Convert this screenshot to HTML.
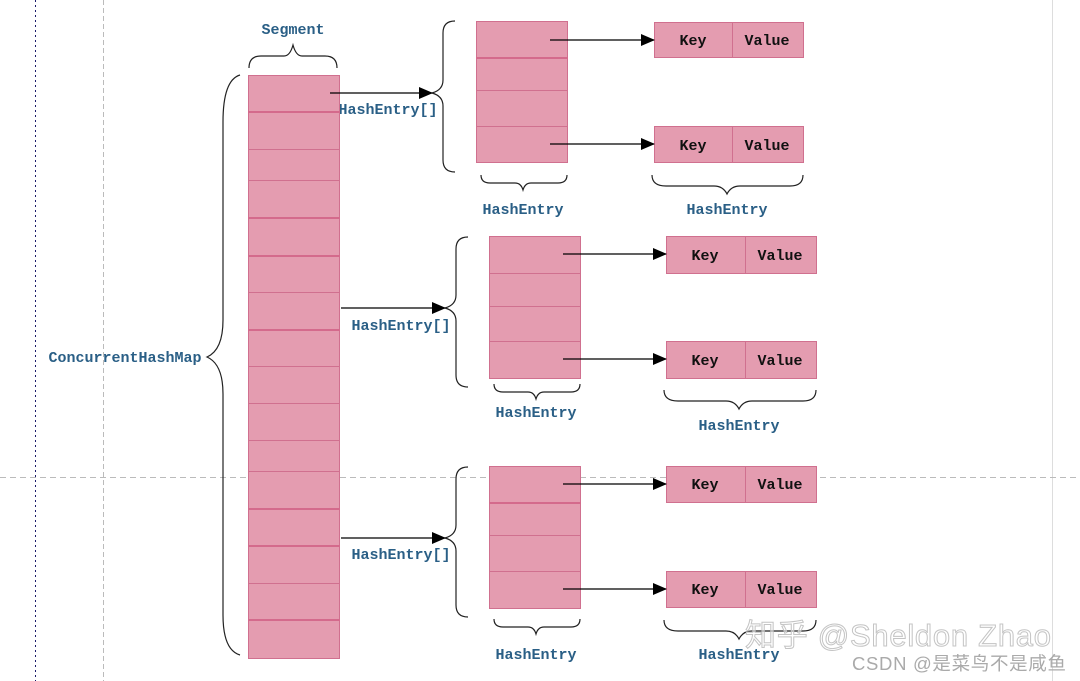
<!DOCTYPE html>
<html><head><meta charset="utf-8"><style>
html,body{margin:0;padding:0;background:#fff;width:1080px;height:681px;overflow:hidden}
</style></head><body>
<svg width="1080" height="681" viewBox="0 0 1080 681" xmlns="http://www.w3.org/2000/svg">
<defs>
<marker id="ar" markerWidth="14" markerHeight="12" refX="13" refY="6" orient="auto" markerUnits="userSpaceOnUse">
<path d="M0,0 L14,6 L0,12 z" fill="#000"/></marker>
</defs>
<line x1="35.5" y1="0" x2="35.5" y2="681" stroke="#1a1a6a" stroke-dasharray="2,3"/>
<line x1="103.5" y1="0" x2="103.5" y2="681" stroke="#bbb" stroke-dasharray="5,3"/>
<line x1="1052.5" y1="0" x2="1052.5" y2="681" stroke="#ddd"/>
<line x1="0" y1="477.5" x2="1080" y2="477.5" stroke="#bbb" stroke-dasharray="6,4"/>

<g font-family="Liberation Mono, monospace" font-weight="bold" font-size="15" fill="#2a5f86" text-anchor="middle">
<text x="293" y="34">Segment</text>
<text x="125" y="362">ConcurrentHashMap</text>
<text x="388" y="114">HashEntry[]</text>
<text x="401" y="330">HashEntry[]</text>
<text x="401" y="559">HashEntry[]</text>
<text x="523" y="214">HashEntry</text>
<text x="727" y="214">HashEntry</text>
<text x="536" y="417">HashEntry</text>
<text x="739" y="430">HashEntry</text>
<text x="536" y="659">HashEntry</text>
<text x="739" y="659">HashEntry</text>
</g>

<g fill="none" stroke="#222" stroke-width="1.2">
<path d="M249,68 Q249,56 261,56 L284,56 Q290,56 293,45 Q296,56 302,56 L325,56 Q337,56 337,68"/>
<path d="M240,75 Q223,80 223,122 L223,320 Q223,350 207,357 Q223,364 223,394 L223,615 Q223,650 240,655"/>
<path d="M455,21 Q443,21 443,33 L443,80 Q443,90 432,93 Q443,96 443,106 L443,160 Q443,172 455,172"/>
<path d="M468,237 Q456,237 456,249 L456,295 Q456,305 445,308 Q456,311 456,321 L456,375 Q456,387 468,387"/>
<path d="M468,467 Q456,467 456,479 L456,525 Q456,535 445,538 Q456,541 456,551 L456,605 Q456,617 468,617"/>
<path d="M481,175 Q481,183 490,183 L515,183 Q521,183 523,190 Q525,183 531,183 L558,183 Q567,183 567,175"/>
<path d="M652,175 Q652,186 666,186 L714,186 Q723,186 727,194 Q731,186 740,186 L790,186 Q803,186 803,175"/>
<path d="M494,384 Q494,392 503,392 L528,392 Q534,392 536,399 Q538,392 544,392 L571,392 Q580,392 580,384"/>
<path d="M664,390 Q664,401 678,401 L726,401 Q735,401 739,409 Q743,401 752,401 L803,401 Q816,401 816,390"/>
<path d="M494,619 Q494,627 503,627 L528,627 Q534,627 536,634 Q538,627 544,627 L571,627 Q580,627 580,619"/>
<path d="M664,620 Q664,631 678,631 L726,631 Q735,631 739,639 Q743,631 752,631 L803,631 Q816,631 816,620"/>
</g>

<g fill="#e49cb0" stroke="#d0708f" stroke-width="1">
<rect x="248.5" y="75.5" width="91" height="583"/>
<rect x="476.5" y="21.5" width="91" height="141"/>
<rect x="489.5" y="236.5" width="91" height="142"/>
<rect x="489.5" y="466.5" width="91" height="142"/>
<rect x="654.5" y="22.5" width="149" height="35"/>
<rect x="654.5" y="126.5" width="149" height="36"/>
<rect x="666.5" y="236.5" width="150" height="37"/>
<rect x="666.5" y="341.5" width="150" height="37"/>
<rect x="666.5" y="466.5" width="150" height="36"/>
<rect x="666.5" y="571.5" width="150" height="36"/>
</g>
<g stroke="#d0708f" stroke-width="1">
<line x1="732.5" y1="22" x2="732.5" y2="58"/>
<line x1="732.5" y1="126" x2="732.5" y2="163"/>
<line x1="745.5" y1="236" x2="745.5" y2="274"/>
<line x1="745.5" y1="341" x2="745.5" y2="379"/>
<line x1="745.5" y1="466" x2="745.5" y2="503"/>
<line x1="745.5" y1="571" x2="745.5" y2="608"/>
<line x1="248" y1="149.5" x2="340" y2="149.5"/>
<line x1="248" y1="180.5" x2="340" y2="180.5"/>
<line x1="248" y1="292.5" x2="340" y2="292.5"/>
<line x1="248" y1="366.5" x2="340" y2="366.5"/>
<line x1="248" y1="403.5" x2="340" y2="403.5"/>
<line x1="248" y1="440.5" x2="340" y2="440.5"/>
<line x1="248" y1="471.5" x2="340" y2="471.5"/>
<line x1="248" y1="583.5" x2="340" y2="583.5"/>
<line x1="476" y1="90.5" x2="568" y2="90.5"/>
<line x1="476" y1="126.5" x2="568" y2="126.5"/>
<line x1="489" y1="273.5" x2="581" y2="273.5"/>
<line x1="489" y1="306.5" x2="581" y2="306.5"/>
<line x1="489" y1="341.5" x2="581" y2="341.5"/>
<line x1="489" y1="535.5" x2="581" y2="535.5"/>
<line x1="489" y1="571.5" x2="581" y2="571.5"/>
</g>
<g stroke="#d46a8c" stroke-width="2">
<line x1="248" y1="112" x2="340" y2="112"/>
<line x1="248" y1="218" x2="340" y2="218"/>
<line x1="248" y1="256" x2="340" y2="256"/>
<line x1="248" y1="330" x2="340" y2="330"/>
<line x1="248" y1="509" x2="340" y2="509"/>
<line x1="248" y1="546" x2="340" y2="546"/>
<line x1="248" y1="620" x2="340" y2="620"/>
<line x1="476" y1="58" x2="568" y2="58"/>
<line x1="489" y1="503" x2="581" y2="503"/>
</g>

<g stroke="#000" stroke-width="1.2" marker-end="url(#ar)">
<line x1="330" y1="93" x2="432" y2="93"/>
<line x1="341" y1="308" x2="445" y2="308"/>
<line x1="341" y1="538" x2="445" y2="538"/>
<line x1="550" y1="40" x2="654" y2="40"/>
<line x1="550" y1="144" x2="654" y2="144"/>
<line x1="563" y1="254" x2="666" y2="254"/>
<line x1="563" y1="359" x2="666" y2="359"/>
<line x1="563" y1="484" x2="666" y2="484"/>
<line x1="563" y1="589" x2="666" y2="589"/>
</g>

<g font-family="Liberation Mono, monospace" font-weight="bold" font-size="15" fill="#111" text-anchor="middle">
<text x="693" y="45">Key</text><text x="767" y="45">Value</text>
<text x="693" y="150">Key</text><text x="767" y="150">Value</text>
<text x="705" y="260">Key</text><text x="780" y="260">Value</text>
<text x="705" y="365">Key</text><text x="780" y="365">Value</text>
<text x="705" y="489">Key</text><text x="780" y="489">Value</text>
<text x="705" y="594">Key</text><text x="780" y="594">Value</text>
</g>

<text x="745" y="646" textLength="306" font-family="Liberation Sans, Noto Sans CJK SC, sans-serif" font-size="31" fill="#fff" fill-opacity="0.5" stroke="#c4c4c4" stroke-width="1">知乎 @Sheldon Zhao</text>
<text x="1066" y="670" text-anchor="end" textLength="214" font-family="Liberation Sans, Noto Sans CJK SC, sans-serif" font-size="18.5" fill="#aaa">CSDN @是菜鸟不是咸鱼</text>
</svg>
</body></html>
